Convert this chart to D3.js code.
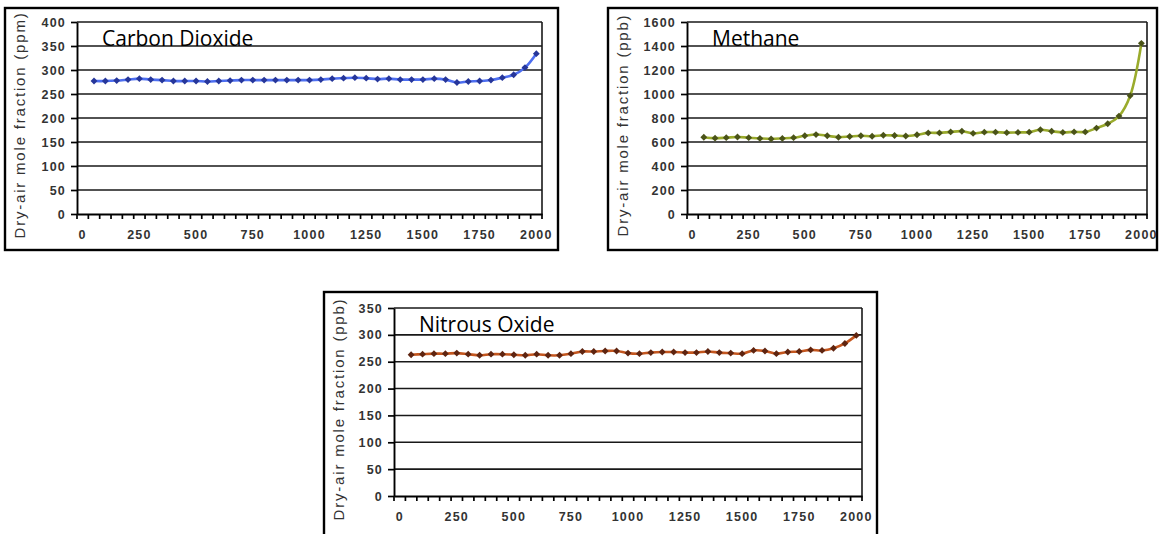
<!DOCTYPE html>
<html><head><meta charset="utf-8">
<script src="https://cdn.jsdelivr.net/npm/d3@7"></script>
<style>body{margin:0;background:#fff} svg{display:block}</style>
</head><body><svg id="c" width="1159" height="534"></svg>
<script>
// ---- data ----
const categories = [0,50,100,150,200,250,300,350,400,450,500,550,600,650,700,750,800,850,900,950,1000,
  1050,1100,1150,1200,1250,1300,1350,1400,1450,1500,1550,1600,1650,1700,1750,1800,1850,1900,1950,2000];
const dataYears = [50,100,150,200,250,300,350,400,450,500,550,600,650,700,750,800,850,900,950,1000,
  1050,1100,1150,1200,1250,1300,1350,1400,1450,1500,1550,1600,1650,1700,1750,1800,1850,1900,1950,2000];
const co2 = [277,277,278,280,282,280,279,277,277,277,276,277,278,279,279,279,279,279,279,279,
  280,282,283,284,283,281,282,280,280,280,282,280,274,276,277,279,284,290,305,334];
const ch4 = [640,632,636,642,636,630,626,630,636,652,662,652,640,646,652,648,656,654,650,660,
  676,676,684,690,672,682,682,678,680,682,702,690,680,684,684,716,752,816,986,1422];
const n2o = [263,264,265,265,266,264,262,264,264,263,262,264,262,262,265,269,269,270,270,266,
  265,267,268,268,267,267,269,267,266,265,271,270,265,268,269,272,271,275,284,299];
const xTickLabels = [0,250,500,750,1000,1250,1500,1750,2000];
const co2Ticks = [0,50,100,150,200,250,300,350,400];
const ch4Ticks = [0,200,400,600,800,1000,1200,1400,1600];
const n2oTicks = [0,50,100,150,200,250,300,350];
const titles = ["Carbon Dioxide","Methane","Nitrous Oxide"];
const yTitles = ["Dry-air mole fraction (ppm)","Dry-air mole fraction (ppb)","Dry-air mole fraction (ppb)"];

// ---- layout / style ----
const panels = [
  {values: co2, ticks: co2Ticks, title: titles[0], yTitle: yTitles[0],
   box:{x:5,y:8,w:553,h:242}, plot:{l:77,t:22,r:542,b:214},
   line:"#4d6ef0", marker:"#26369a"},
  {values: ch4, ticks: ch4Ticks, title: titles[1], yTitle: yTitles[1],
   box:{x:608,y:8,w:549,h:242}, plot:{l:687,t:22,r:1147,b:214},
   line:"#9aab2c", marker:"#4a5318"},
  {values: n2o, ticks: n2oTicks, title: titles[2], yTitle: yTitles[2],
   box:{x:324,y:292,w:553,h:252}, plot:{l:394,t:308,r:862,b:496},
   line:"#c4561e", marker:"#5e2410"}
];

const svg = d3.select("#c");
const tickFont = "Liberation Sans, Arial, sans-serif";
const diamond = d3.symbolDiamond2 || d3.symbolDiamond;

panels.forEach(p => {
  const g = svg.append("g");
  const {box, plot} = p;
  g.append("rect").attr("x", box.x).attr("y", box.y).attr("width", box.w).attr("height", box.h)
    .attr("fill", "#fff").attr("stroke", "#000").attr("stroke-width", 2.4);

  const x = d3.scaleBand().domain(categories).range([plot.l, plot.r]).padding(0);
  const y = d3.scaleLinear().domain([0, d3.max(p.ticks)]).range([plot.b, plot.t]);
  const bw = x.bandwidth();

  // gridlines
  g.selectAll("line.grid").data(p.ticks.filter(v => v > 0)).join("line")
    .attr("x1", plot.l).attr("x2", plot.r)
    .attr("y1", d => y(d)).attr("y2", d => y(d))
    .attr("stroke", "#181818").attr("stroke-width", 1.6);
  // right edge of plot area
  g.append("line").attr("x1", plot.r).attr("x2", plot.r).attr("y1", y(d3.max(p.ticks))).attr("y2", plot.b)
    .attr("stroke", "#181818").attr("stroke-width", 1.6);

  // y axis
  const ya = g.append("g").attr("transform", `translate(${plot.l},0)`)
    .call(d3.axisLeft(y).tickValues(p.ticks).tickFormat(d3.format("d"))
      .tickSize(6).tickSizeOuter(0).tickPadding(5));
  ya.select(".domain").attr("stroke", "#000").attr("stroke-width", 1.9);
  ya.selectAll(".tick line").attr("stroke", "#000").attr("stroke-width", 1.7);
  ya.selectAll(".tick text").style("font-family", tickFont).style("font-size", "12.5px")
    .style("font-weight", "bold").attr("letter-spacing", 1.2).attr("fill", "#333");

  // x axis
  const xa = g.append("g").attr("transform", `translate(0,${plot.b})`)
    .call(d3.axisBottom(x).tickValues(xTickLabels).tickFormat(d3.format("d"))
      .tickSize(0).tickSizeOuter(0).tickPadding(16));
  xa.select(".domain").attr("stroke", "#000").attr("stroke-width", 2.2);
  xa.selectAll(".tick text").style("font-family", tickFont).style("font-size", "12.5px")
    .style("font-weight", "bold").attr("letter-spacing", 1.2).attr("fill", "#333");
  // category boundary tick marks
  g.selectAll("line.xt").data(categories).join("line")
    .attr("x1", d => x(d) + bw).attr("x2", d => x(d) + bw)
    .attr("y1", plot.b).attr("y2", plot.b + 5)
    .attr("stroke", "#000").attr("stroke-width", 1.7);
  g.append("line").attr("x1", x(categories[0])).attr("x2", x(categories[0]))
    .attr("y1", plot.b).attr("y2", plot.b + 5).attr("stroke", "#000").attr("stroke-width", 1.7);

  // series
  const pts = dataYears.map((yr, i) => ({yr, v: p.values[i]}));
  const line = d3.line().x(d => x(d.yr) + bw / 2).y(d => y(d.v)).curve(d3.curveCatmullRom.alpha(0.5));
  g.append("path").datum(pts).attr("d", line).attr("fill", "none")
    .attr("stroke", p.line).attr("stroke-width", 2.6);
  g.selectAll("path.mk").data(pts).join("path")
    .attr("transform", d => `translate(${x(d.yr) + bw / 2},${y(d.v)})`)
    .attr("d", d3.symbol(diamond, 30))
    .attr("fill", p.marker);

  // chart title
  g.append("text").attr("x", plot.l + 25).attr("y", plot.t + 24)
    .style("font-family", "Open Sans, sans-serif").style("font-size", "21px")
    .attr("fill", "#000").text(p.title);

  // y-axis title
  const cy = (plot.t + plot.b) / 2 + 7;
  g.append("text").attr("transform", `translate(${box.x + 20},${cy}) rotate(-90)`)
    .attr("text-anchor", "middle").style("font-family", tickFont).style("font-size", "15px")
    .attr("letter-spacing", 1.8).attr("fill", "#333").text(p.yTitle);
});
</script>
</body></html>
